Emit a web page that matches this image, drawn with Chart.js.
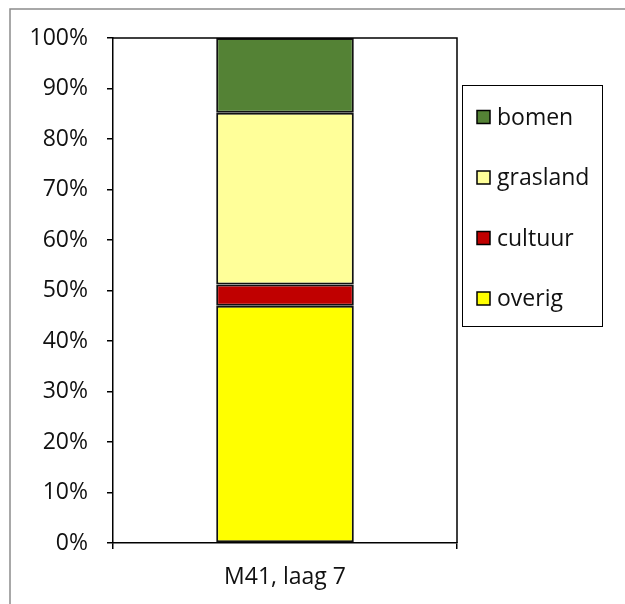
<!DOCTYPE html>
<html>
<head>
<meta charset="utf-8">
<script src="https://cdn.jsdelivr.net/npm/chart.js@4/dist/chart.umd.min.js"></script>
<style>
  html, body { margin: 0; padding: 0; background: #fff; }
  #c { display: block; }
</style>
</head>
<body>
<canvas id="c" width="625" height="604"></canvas>
<script>
// Land-use shares (percent) for one sample layer
const categories = ['M41, laag 7'];
const overig   = [47.0];
const cultuur  = [4.2];
const grasland = [34.0];
const bomen    = [14.8];
const yTickValues = [0, 10, 20, 30, 40, 50, 60, 70, 80, 90, 100];

const FONT = '"Open Sans", sans-serif';
const FONT_SIZE = 23;

// White background, thin grey frame and the top/right edges of the plot box
const framePlugin = {
  id: 'frame',
  beforeDraw(chart) {
    const ctx = chart.ctx;
    ctx.save();
    ctx.fillStyle = '#fff';
    ctx.fillRect(0, 0, chart.width, chart.height);
    ctx.strokeStyle = '#8c8c8c';
    ctx.lineWidth = 1.5;
    ctx.beginPath();
    ctx.moveTo(10, chart.height + 5);
    ctx.lineTo(10, 9);
    ctx.lineTo(chart.width + 5, 9);
    ctx.stroke();
    ctx.restore();
  },
  afterDraw(chart) {
    const { ctx, chartArea: a } = chart;
    ctx.save();
    ctx.strokeStyle = '#000';
    ctx.lineWidth = 1.5;
    ctx.beginPath();
    ctx.moveTo(a.left, a.top);
    ctx.lineTo(a.right, a.top);
    ctx.lineTo(a.right, a.bottom);
    ctx.stroke();
    ctx.restore();
  }
};

// Boxed legend at the right, listing the stack from top to bottom
const boxLegend = {
  id: 'boxLegend',
  afterDraw(chart) {
    const ctx = chart.ctx;
    const box = { x: 462.5, y: 85.5, w: 140, h: 241 };
    ctx.save();
    ctx.strokeStyle = '#000';
    ctx.lineWidth = 1;
    ctx.strokeRect(box.x, box.y, box.w, box.h);
    const ds = chart.data.datasets.slice().reverse();
    const rowTop = 117, rowGap = 60.5;
    ctx.font = FONT_SIZE + 'px ' + FONT;
    ctx.textBaseline = 'middle';
    ds.forEach((d, i) => {
      const cy = rowTop + i * rowGap;
      ctx.fillStyle = d.backgroundColor;
      ctx.fillRect(477, cy - 6.5, 13, 13);
      ctx.strokeStyle = '#000';
      ctx.lineWidth = 1.5;
      ctx.strokeRect(477, cy - 6.5, 13, 13);
      ctx.fillStyle = '#111';
      ctx.fillText(d.label, 497, cy + 1);
    });
    ctx.restore();
  }
};

const mkSet = (label, data, color) => ({
  label, data,
  backgroundColor: color,
  borderColor: '#111',
  borderWidth: 2,
  borderSkipped: false,
  categoryPercentage: 1.0,
  barPercentage: 0.4
});

new Chart(document.getElementById('c'), {
  type: 'bar',
  data: {
    labels: categories,
    datasets: [
      mkSet('overig', overig, '#ffff00'),
      mkSet('cultuur', cultuur, '#c00000'),
      mkSet('grasland', grasland, '#ffff99'),
      mkSet('bomen', bomen, '#548235')
    ]
  },
  options: {
    responsive: false,
    animation: false,
    layout: { padding: { left: 0, top: 38, right: 168, bottom: 0 } },
    plugins: { legend: { display: false }, tooltip: { enabled: false } },
    scales: {
      x: {
        stacked: true,
        offset: true,
        afterFit(s) { s.height = 61; },
        grid: { offset: true, drawOnChartArea: false, drawTicks: true, tickLength: 6, color: '#000', lineWidth: 1.5 },
        border: { display: true, color: '#000', width: 1.5 },
        ticks: { color: '#111', font: { family: FONT, size: FONT_SIZE }, padding: 15 }
      },
      y: {
        stacked: true,
        min: 0,
        max: 100,
        afterFit(s) { s.width = 113; },
        afterBuildTicks(s) { s.ticks = yTickValues.map(v => ({ value: v })); },
        grid: { drawOnChartArea: false, drawTicks: true, tickLength: 6, color: '#000', lineWidth: 1.5 },
        border: { display: true, color: '#000', width: 1.5 },
        ticks: {
          color: '#111',
          font: { family: FONT, size: FONT_SIZE },
          padding: 19,
          callback: v => v + '%'
        }
      }
    }
  },
  plugins: [framePlugin, boxLegend]
});
</script>
</body>
</html>
